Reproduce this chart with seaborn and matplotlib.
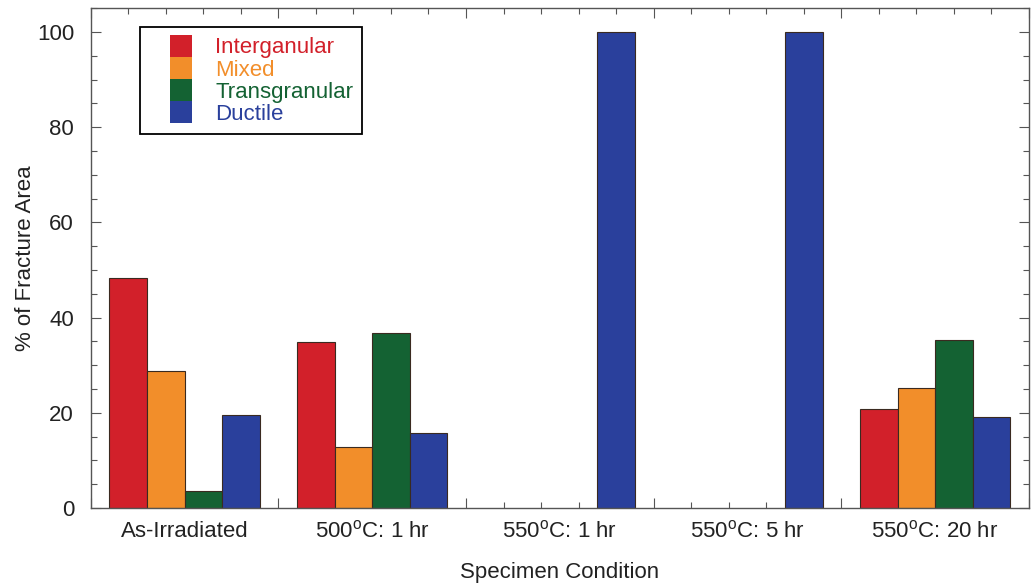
import numpy as np
import pandas as pd
import matplotlib
matplotlib.use('Agg')
import matplotlib.pyplot as plt
import seaborn as sns
from matplotlib.patches import Patch, Rectangle
from matplotlib.legend_handler import HandlerPatch
from matplotlib.ticker import MultipleLocator

# ---- data ----
conditions = ['As-Irradiated',
              '500$^\\mathregular{o}$C: 1 hr',
              '550$^\\mathregular{o}$C: 1 hr',
              '550$^\\mathregular{o}$C: 5 hr',
              '550$^\\mathregular{o}$C: 20 hr']
modes = ['Interganular', 'Mixed', 'Transgranular', 'Ductile']
interganular = [48.4, 34.8, 0, 0, 20.8]
mixed = [28.7, 12.8, 0, 0, 25.2]
transgranular = [3.6, 36.7, 0, 0, 35.2]
ductile = [19.5, 15.7, 100, 100, 19.1]
colors = ['#D2202A', '#F28E2A', '#146233', '#2A409C']

rows = []
for mode, vals in zip(modes, [interganular, mixed, transgranular, ductile]):
    for cond, v in zip(conditions, vals):
        if v > 0:
            rows.append({'Condition': cond, 'Mode': mode, 'Value': v})
df = pd.DataFrame(rows)

sns.set_style('ticks')
plt.rcParams['font.family'] = ['Liberation Sans', 'DejaVu Sans']

fig = plt.figure(figsize=(10.31, 5.84), dpi=100)
ax = fig.add_axes([0.088, 0.130, 0.910, 0.856])

sns.barplot(data=df, x='Condition', y='Value', hue='Mode',
            order=conditions, hue_order=modes, palette=colors,
            width=0.8, edgecolor='#3a2a20', linewidth=0.8,
            saturation=1, legend=False, ax=ax)

n = len(conditions)
tick_col = '#555555'
txt_col = '#222222'

ax.set_xlim(-0.5, n - 0.5)
ax.set_ylim(0, 105)
ax.yaxis.set_major_locator(MultipleLocator(20))
ax.yaxis.set_minor_locator(MultipleLocator(5))

# labels at group centres (no mark), small marks at bar centres
ax.set_xticks(np.arange(n), labels=conditions)
ax.set_xticks([i + d for i in range(n) for d in (-0.3, -0.1, 0.1, 0.3)], minor=True)
ax.tick_params(axis='x', which='major', length=0, pad=21, labelsize=16, labelcolor=txt_col)
for lbl in ax.get_xticklabels():
    lbl.set_verticalalignment('baseline')
ax.tick_params(axis='x', which='minor', direction='in', top=True, length=4,
               width=0.8, color=tick_col)

# longer marks at group boundaries, bottom and top
for side in ('bottom', 'top'):
    sec = ax.secondary_xaxis(side)
    sec.set_xticks(np.arange(-0.5, n, 1.0), labels=[])
    sec.tick_params(direction='in', length=7, width=0.8, color=tick_col)
    sec.spines[side].set_visible(False)

ax.tick_params(axis='y', which='major', direction='in', right=True, length=7,
               width=0.8, color=tick_col, labelsize=16, labelcolor=txt_col, pad=12)
ax.tick_params(axis='y', which='minor', direction='in', right=True, length=4,
               width=0.8, color=tick_col)

for s in ax.spines.values():
    s.set_color(tick_col)
    s.set_linewidth(1.0)

ax.set_xlabel('Specimen Condition', fontsize=16, color=txt_col)
ax.set_ylabel('% of Fracture Area', fontsize=16, color=txt_col)
ax.xaxis.set_label_coords(0.5, -0.107)
ax.yaxis.set_label_coords(-0.058, 0.5)


# square swatch drawn at the right end of the handle box
def square_patch(legend, orig_handle, xdescent, ydescent, width, height, fontsize):
    side = height + 2
    return Rectangle((-xdescent + width - side, -ydescent - 1), side, side)


handles = [Patch(facecolor=c, edgecolor='none') for c in colors]
leg = ax.legend(handles, modes, loc='upper left', bbox_to_anchor=(0.052, 0.962),
                labelcolor=colors, fontsize=16, frameon=True, fancybox=False,
                framealpha=1, edgecolor='black', handlelength=1.95, handleheight=0.95,
                labelspacing=0.0, borderpad=0.4, borderaxespad=0.0,
                handletextpad=1.05,
                handler_map={Patch: HandlerPatch(patch_func=square_patch)})
leg.get_frame().set_linewidth(1.3)

fig.savefig('out.png', dpi=100)
